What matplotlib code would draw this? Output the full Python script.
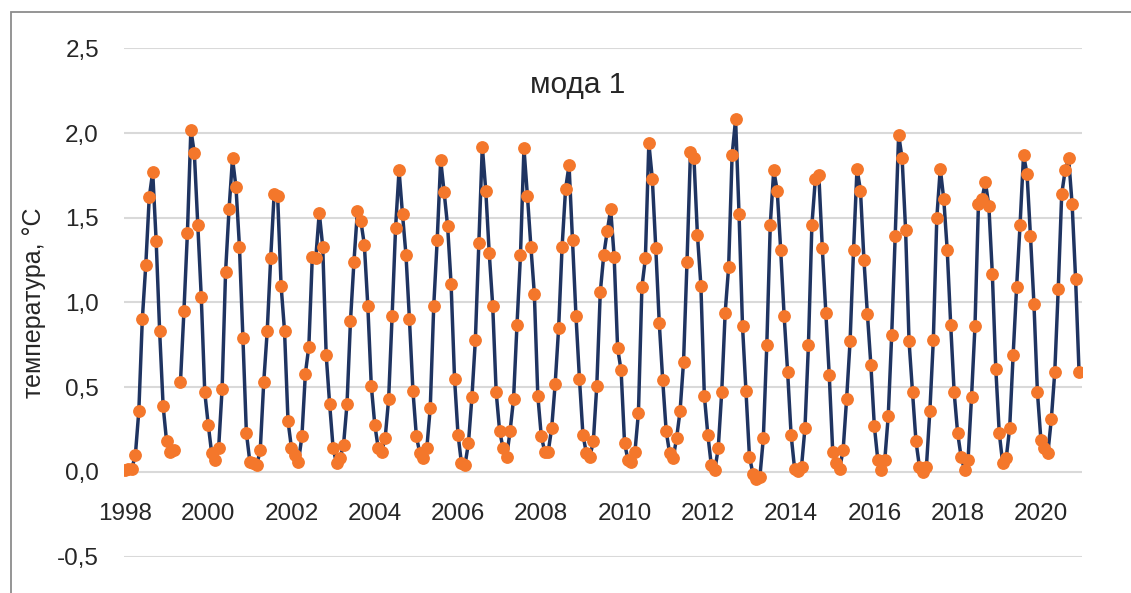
import numpy as np
import matplotlib.pyplot as plt
from matplotlib.patches import Rectangle

# monthly values, Jan 1998 .. Dec 2020 (one month missing in 1999)
v_1998_2001 = [0.01, 0.015, 0.02, 0.10, 0.36, 0.90, 1.22, 1.62, 1.77, 1.36, 0.83, 0.39,
               0.18, 0.12, 0.13, np.nan, 0.53, 0.95, 1.41, 2.02, 1.88, 1.46, 1.03, 0.47,
               0.28, 0.11, 0.07, 0.14, 0.49, 1.18, 1.55, 1.85, 1.68, 1.33, 0.79, 0.23,
               0.06, 0.05, 0.04, 0.13, 0.53, 0.83, 1.26, 1.64, 1.63, 1.10, 0.83, 0.30]
v_2002_2005 = [0.14, 0.10, 0.06, 0.21, 0.58, 0.74, 1.27, 1.26, 1.53, 1.33, 0.69, 0.40,
               0.14, 0.05, 0.08, 0.16, 0.40, 0.89, 1.24, 1.54, 1.48, 1.34, 0.98, 0.51,
               0.28, 0.14, 0.12, 0.20, 0.43, 0.92, 1.44, 1.78, 1.52, 1.28, 0.90, 0.48,
               0.21, 0.11, 0.08, 0.14, 0.38, 0.98, 1.37, 1.84, 1.65, 1.45, 1.11, 0.55]
v_2006_2009 = [0.22, 0.05, 0.04, 0.17, 0.44, 0.78, 1.35, 1.92, 1.66, 1.29, 0.98, 0.47,
               0.24, 0.14, 0.09, 0.24, 0.43, 0.87, 1.28, 1.91, 1.63, 1.33, 1.05, 0.45,
               0.21, 0.12, 0.12, 0.26, 0.52, 0.85, 1.33, 1.67, 1.81, 1.37, 0.92, 0.55,
               0.22, 0.11, 0.09, 0.18, 0.51, 1.06, 1.28, 1.42, 1.55, 1.27, 0.73, 0.60]
v_2010_2013 = [0.17, 0.07, 0.06, 0.12, 0.35, 1.09, 1.26, 1.94, 1.73, 1.32, 0.88, 0.54,
               0.24, 0.11, 0.08, 0.20, 0.36, 0.65, 1.24, 1.89, 1.85, 1.40, 1.10, 0.45,
               0.22, 0.04, 0.01, 0.14, 0.47, 0.94, 1.21, 1.87, 2.08, 1.52, 0.86, 0.48,
               0.09, -0.01, -0.04, -0.03, 0.20, 0.75, 1.46, 1.78, 1.66, 1.31, 0.92, 0.59]
v_2014_2017 = [0.22, 0.02, 0.005, 0.03, 0.26, 0.75, 1.46, 1.73, 1.75, 1.32, 0.94, 0.57,
               0.12, 0.05, 0.02, 0.13, 0.43, 0.77, 1.31, 1.79, 1.66, 1.25, 0.93, 0.63,
               0.27, 0.07, 0.01, 0.07, 0.33, 0.81, 1.39, 1.99, 1.85, 1.43, 0.77, 0.47,
               0.18, 0.03, 0.00, 0.03, 0.36, 0.78, 1.50, 1.79, 1.61, 1.31, 0.87, 0.47]
v_2018_2020 = [0.23, 0.09, 0.01, 0.07, 0.44, 0.86, 1.58, 1.61, 1.71, 1.57, 1.17, 0.61,
               0.23, 0.05, 0.08, 0.26, 0.69, 1.09, 1.46, 1.87, 1.76, 1.39, 0.99, 0.47,
               0.19, 0.14, 0.11, 0.31, 0.59, 1.08, 1.64, 1.78, 1.85, 1.58, 1.14, 0.59]

start_year = 1998
year_ticks = list(range(1998, 2021, 2))
y_ticks = [-0.5, 0.0, 0.5, 1.0, 1.5, 2.0, 2.5]

values = np.array(v_1998_2001 + v_2002_2005 + v_2006_2009 +
                  v_2010_2013 + v_2014_2017 + v_2018_2020)
t = start_year + np.arange(len(values)) / 12.0

plt.rcParams['font.family'] = ['Liberation Sans', 'DejaVu Sans']
text_col = '#262626'

fig = plt.figure(figsize=(11.31, 5.93), dpi=100)
ax = fig.add_axes([0.1096, 0.0612, 0.8471, 0.8574])

ax.plot(t, values, color='#1F3461', lw=2.5, marker='o', markersize=8.2,
        markerfacecolor='#F4772B', markeredgecolor='#F4772B', zorder=3)

ax.set_ylim(-0.5, 2.5)
ax.set_xlim(1997.976, 2020.988)
ax.set_yticks(y_ticks)
ax.set_yticklabels([f'{v:.1f}'.replace('.', ',') for v in y_ticks])
ax.set_xticks(year_ticks)
ax.set_xticklabels([str(y) for y in year_ticks])

for s in ['top', 'right', 'left']:
    ax.spines[s].set_visible(False)
ax.spines['bottom'].set_position(('data', 0))
ax.spines['bottom'].set_visible(False)

ax.grid(axis='y', color='#D9D9D9', lw=1.5)
ax.set_axisbelow(True)
ax.tick_params(axis='y', length=0, pad=18, labelsize=17.5, labelcolor=text_col)
ax.tick_params(axis='x', length=0, pad=22, labelsize=17.5, labelcolor=text_col)

ax.set_ylabel('температура, °C', fontsize=18, color=text_col, labelpad=8)

fig.text(578 / 1131, 1 - 85 / 593, 'мода 1', fontsize=21.5, color=text_col,
         ha='center', va='center')

# chart border
fig.patches.append(Rectangle((11 / 1131, -0.1), 1.2, 1.1 - 12 / 593,
                             transform=fig.transFigure, fill=False,
                             edgecolor='#8C8C8C', lw=1.3))

fig.savefig('out.png', dpi=100)
